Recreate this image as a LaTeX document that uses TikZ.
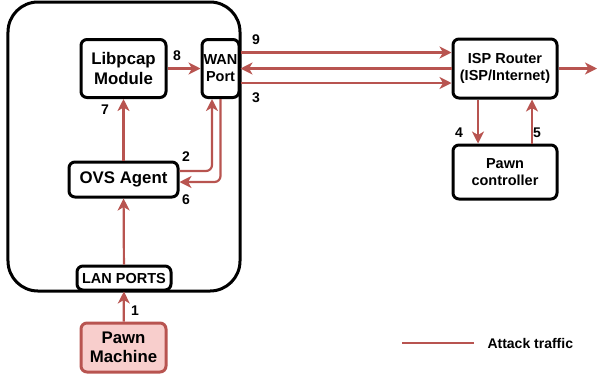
\documentclass[tikz,border=0pt]{standalone}
\usepackage{fontspec}
\setmainfont{Liberation Sans}
\usetikzlibrary{arrows.meta}
\definecolor{atk}{HTML}{B85450}
\definecolor{atkfill}{HTML}{F8CECC}
\begin{document}
\begin{tikzpicture}
[x=1bp,y=-1bp, b/.style={draw,line width=3bp,rounded corners=6bp,align=center,inner sep=0pt,font=\bfseries\fontsize{16.8bp}{19.5bp}\selectfont},
s/.style={b,font=\bfseries\fontsize{14.5bp}{17bp}\selectfont}, l/.style={font=\bfseries\fontsize{14bp}{16bp}\selectfont},
a/.style={draw=atk,line width=2.2bp,-{Stealth[length=12bp,width=12bp,inset=3.5bp]}}]
\useasboundingbox (0,0) rectangle (597,379);
\node(box) at (124,146.5)[draw,line width=3bp,rounded corners=30bp,minimum width=232bp,minimum height=289bp]{};
\node(libpcap) at (123.5,68.5)[b,minimum width=85bp,minimum height=58bp]{Libpcap\\Module};
\node(wan) at (220.5,68.5)[s,minimum width=37bp,minimum height=58bp]{WAN\\Port};
\node(ovs) at (123.5,179.5)[b,minimum width=109bp,minimum height=35bp]{OVS Agent};
\node(lan) at (124,278)[s,fill=white,minimum width=94bp,minimum height=24bp]{LAN PORTS};
\node(pawn) at (123.5,347.5)[b,draw=atk,fill=atkfill,minimum width=85bp,minimum height=49bp]{Pawn\\Machine};
\node(isp) at (505,68.5)[s,minimum width=104bp,minimum height=59bp]{ISP Router\\(ISP/Internet)};
\node(ctrl) at (505,172)[s,minimum width=104bp,minimum height=54bp]{Pawn\\controller};
\coordinate(w9) at ([yshift=16bp]wan.east);\coordinate(w3) at ([yshift=-14.5bp]wan.east);\coordinate(out) at (597,68.5);
\coordinate(o2) at ([yshift=8.5bp]ovs.east);\coordinate(o6) at ([yshift=-2.5bp]ovs.east);
\draw[a](pawn)--(lan);\draw[a](lan)--(ovs);\draw[a](ovs)--(libpcap);\draw[a](libpcap)--(wan);
\draw[a,rounded corners=6bp](o2)-|([xshift=-8.5bp]wan.south);\draw[a,rounded corners=6bp](wan.south)|-(o6);
\draw[a](w9)--(w9-|isp.west);\draw[a](isp)--(wan);\draw[a](w3)--(w3-|isp.west);\draw[a](isp)--(out);
\draw[a]([xshift=-27bp]isp.south)--([xshift=-27bp]ctrl.north);\draw[a]([xshift=27bp]ctrl.north)--([xshift=27bp]isp.south);
\node(n1) at (135,311)[l]{1};\node(n2) at (186,157)[l]{2};\node(n3) at (256,98)[l]{3};\node(n4) at (459,133)[l]{4};
\node(n5) at (537,133)[l]{5};\node(n6) at (186,200)[l]{6};\node(n7) at (105,110)[l]{7};\node(n8) at (177,56)[l]{8};
\node(n9) at (256,40)[l]{9};
\coordinate(k1) at (402,343);\coordinate(k2) at (474,343);\draw[draw=atk,line width=2.2bp](k1)--(k2);
\node(key) at (484,343)[l,anchor=west]{Attack traffic};
\end{tikzpicture}
\end{document}
